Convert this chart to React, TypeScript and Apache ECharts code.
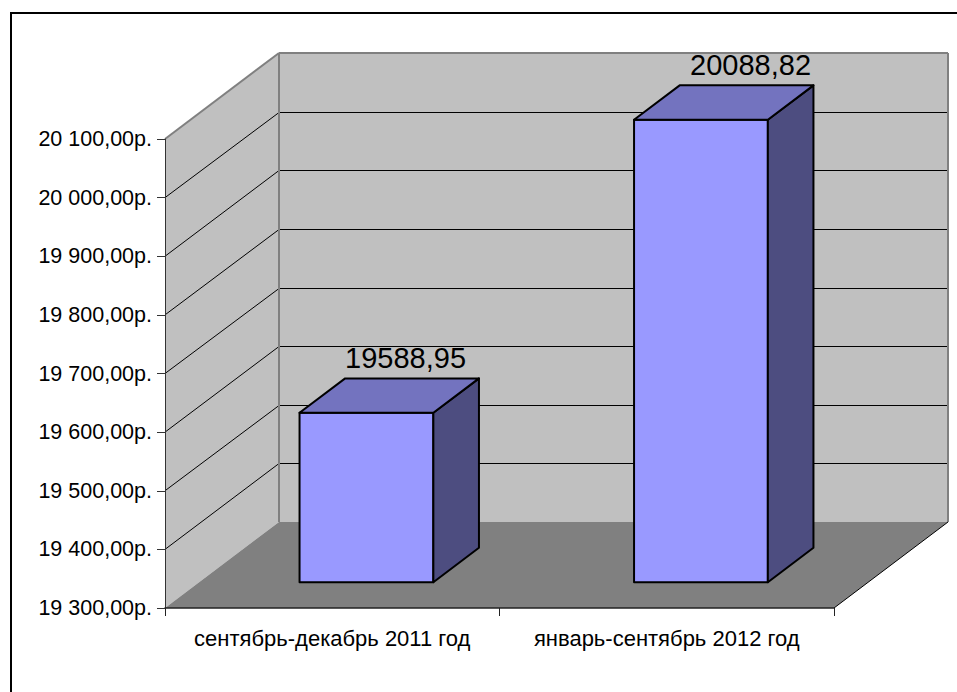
import React, { useEffect, useRef } from "react";
import * as echarts from "echarts";

const categories = ["сентябрь-декабрь 2011 год", "январь-сентябрь 2012 год"];
const values = [19588.95, 20088.82];
const valueLabels = ["19588,95", "20088,82"];
const yTicks = [19300, 19400, 19500, 19600, 19700, 19800, 19900, 20000, 20100];
const yMin = 19300;
const yMax = 20100;
const yStep = 100;

const DEPTH_X = 114;
const DEPTH_Y = -86;
const FONT = '"Liberation Sans", Arial, sans-serif';

function money(v: number) {
  const s = String(Math.round(v));
  return s.slice(0, -3) + " " + s.slice(-3) + ",00р.";
}

function poly(points: number[][], fill: string, stroke?: string, lineWidth = 1) {
  return {
    type: "polygon",
    shape: { points },
    style: { fill, stroke: stroke ?? "none", lineWidth, lineJoin: "round" },
  };
}

function line(a: number[], b: number[], stroke: string, lineWidth = 1) {
  return {
    type: "line",
    shape: { x1: a[0], y1: a[1], x2: b[0], y2: b[1] },
    style: { stroke, lineWidth },
  };
}

function renderWalls(params: any, api: any) {
  const cs = params.coordSys;
  const l = cs.x;
  const r = cs.x + cs.width;
  const t = cs.y;
  const b = cs.y + cs.height;
  const dx = DEPTH_X;
  const dy = DEPTH_Y;
  const children: any[] = [
    poly([[l, t], [l + dx, t + dy], [l + dx, b + dy], [l, b]], "#c0c0c0"),
    poly([[l + dx, t + dy], [r + dx, t + dy], [r + dx, b + dy], [l + dx, b + dy]], "#c0c0c0"),
    poly([[l, b], [r, b], [r + dx, b + dy], [l + dx, b + dy]], "#808080"),
  ];
  yTicks.slice(1, -1).forEach((v) => {
    const y = api.coord([0, v])[1];
    const yBack = Math.round(y + dy) + 0.5;
    children.push(line([l, y], [l + dx, yBack], "#000000"));
    children.push(line([l + dx, yBack], [r + dx, yBack], "#000000"));
  });
  children.push(line([l, t], [l + dx, t + dy], "#808080", 2));
  children.push(line([l + dx, t + dy], [r + dx, t + dy], "#808080", 2));
  children.push(line([l + dx, t + dy], [l + dx, b + dy], "#808080", 2));
  children.push(line([r + dx, t + dy], [r + dx, b + dy], "#808080", 2));
  children.push(line([r, b], [r + dx, b + dy], "#000000", 1));
  return { type: "group", children };
}

const LABEL_SHIFT_X = [-6.5, 4];

function renderBar(params: any, api: any) {
  const idx = api.value(0);
  const val = api.value(1);
  const band = api.size([1, 0])[0];
  const top = api.coord([idx, val]);
  const base = api.coord([idx, yMin]);
  const w = band * 0.4;
  const fx = 0.3 * DEPTH_X;
  const fy = 0.3 * DEPTH_Y;
  const bx = 0.4 * DEPTH_X;
  const by = 0.4 * DEPTH_Y;
  const x0 = top[0] - w / 2 + fx;
  const x1 = x0 + w;
  const yt = top[1] + fy;
  const yb = base[1] + fy;
  const sw = 2;
  return {
    type: "group",
    children: [
      poly([[x0, yt], [x1, yt], [x1, yb], [x0, yb]], "#9999ff", "#000000", sw),
      poly([[x1, yt], [x1 + bx, yt + by], [x1 + bx, yb + by], [x1, yb]], "#4d4d80", "#000000", sw),
      poly([[x0, yt], [x0 + bx, yt + by], [x1 + bx, yt + by], [x1, yt]], "#7373bf", "#000000", sw),
      {
        type: "text",
        style: {
          x: top[0] + fx + bx + LABEL_SHIFT_X[idx],
          y: yt + by - 20.5,
          text: valueLabels[idx],
          fill: "#000000",
          font: `29px ${FONT}`,
          align: "center",
          verticalAlign: "middle",
        },
      },
    ],
  };
}

export default function App() {
  const ref = useRef<HTMLDivElement>(null);

  useEffect(() => {
    const chart = echarts.init(ref.current!, undefined, { renderer: "svg" });
    chart.setOption({
      animation: false,
      backgroundColor: "#ffffff",
      graphic: {
        elements: [
          { type: "line", silent: true, shape: { x1: 11, y1: 13, x2: 957, y2: 13 }, style: { stroke: "#000000", lineWidth: 2 } },
          { type: "line", silent: true, shape: { x1: 11, y1: 12, x2: 11, y2: 692 }, style: { stroke: "#000000", lineWidth: 2 } },
        ],
      },
      grid: { left: 165, top: 139, width: 669, height: 469 },
      xAxis: {
        type: "category",
        data: categories,
        axisLine: { lineStyle: { color: "#222222", width: 1.5 } },
        axisTick: { show: true, length: 8, interval: 0, lineStyle: { color: "#222222" } },
        axisLabel: {
          color: "#000000",
          fontFamily: FONT,
          fontSize: 22,
          margin: 19,
          interval: 0,
          hideOverlap: false,
          width: 334,
          overflow: "none",
        },
        z: 10,
      },
      yAxis: {
        type: "value",
        min: yMin,
        max: yMax,
        interval: yStep,
        axisLine: { show: true, lineStyle: { color: "#333333" } },
        axisTick: { show: true, length: 8, lineStyle: { color: "#333333" } },
        axisLabel: { color: "#000000", fontFamily: FONT, fontSize: 21.5, margin: 13, formatter: money },
        splitLine: { show: false },
        z: 10,
      },
      series: [
        { type: "custom", renderItem: renderWalls, data: [[0, yMin]], z: 1, silent: true },
        {
          type: "custom",
          renderItem: renderBar,
          data: values.map((v, i) => [i, v]),
          z: 2,
          silent: true,
        },
      ],
    });
    return () => chart.dispose();
  }, []);

  return (
    <div
      ref={ref}
      style={{ position: "fixed", left: 0, top: 0, width: 957, height: 692, background: "#fff" }}
    />
  );
}
